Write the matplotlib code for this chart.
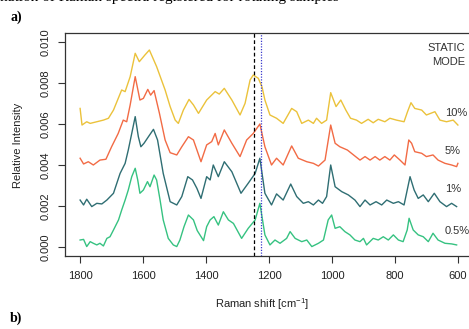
import matplotlib.pyplot as plt

plt.rcParams['font.family'] = ['Liberation Sans', 'DejaVu Sans']
plt.rcParams['mathtext.default'] = 'regular'

# spectra (wavenumber in cm-1, relative intensity)
wn_10 = [1800, 1794, 1779, 1768, 1747, 1726, 1710, 1694, 1668, 1657, 1641, 1625, 1612, 1594,
         1580, 1557, 1530, 1514, 1498, 1488, 1472, 1454, 1440, 1424, 1398, 1371, 1358, 1342,
         1318, 1292, 1276, 1260, 1250, 1234, 1222, 1213, 1197, 1176, 1155, 1128, 1112, 1096,
         1075, 1059, 1049, 1033, 1017, 1004, 987, 972, 956, 941, 922, 906, 885, 869, 853, 832,
         816, 795, 771, 760, 749, 737, 715, 700, 673, 657, 636, 615, 600]
int_10 = [0.00676, 0.00595, 0.00611, 0.00603, 0.00611, 0.00619, 0.00628, 0.00668, 0.00766,
          0.00758, 0.00831, 0.00945, 0.00904, 0.00937, 0.00961, 0.00880, 0.00766, 0.00685,
          0.00619, 0.00603, 0.00668, 0.00720, 0.00693, 0.00652, 0.00717, 0.00758, 0.00746,
          0.00774, 0.00717, 0.00644, 0.00701, 0.00815, 0.00839, 0.00823, 0.00780, 0.00717,
          0.00644, 0.00628, 0.00603, 0.00676, 0.00660, 0.00603, 0.00619, 0.00603, 0.00628,
          0.00603, 0.00619, 0.00753, 0.00685, 0.00717, 0.00668, 0.00628, 0.00619, 0.00603,
          0.00623, 0.00606, 0.00623, 0.00611, 0.00628, 0.00619, 0.00611, 0.00660, 0.00704,
          0.00676, 0.00668, 0.00644, 0.00660, 0.00619, 0.00611, 0.00619, 0.00595]

wn_5 = [1800, 1789, 1774, 1758, 1737, 1718, 1700, 1679, 1663, 1652, 1641, 1625, 1610, 1599,
        1585, 1576, 1565, 1548, 1530, 1514, 1493, 1477, 1456, 1440, 1416, 1398, 1382, 1371,
        1361, 1342, 1318, 1292, 1271, 1250, 1229, 1213, 1192, 1176, 1155, 1128, 1107, 1080,
        1059, 1043, 1022, 1004, 990, 975, 951, 938, 911, 895, 879, 863, 848, 832, 816, 802,
        784, 768, 756, 747, 737, 715, 700, 679, 663, 641, 620, 604, 600]
int_5 = [0.00433, 0.00405, 0.00416, 0.00400, 0.00424, 0.00428, 0.00489, 0.00554, 0.00619,
         0.00611, 0.00693, 0.00831, 0.00717, 0.00725, 0.00769, 0.00741, 0.00763, 0.00652,
         0.00522, 0.00460, 0.00449, 0.00489, 0.00538, 0.00522, 0.00416, 0.00498, 0.00514,
         0.00554, 0.00498, 0.00571, 0.00506, 0.00441, 0.00522, 0.00554, 0.00600, 0.00489,
         0.00400, 0.00433, 0.00400, 0.00493, 0.00433, 0.00416, 0.00408, 0.00395, 0.00424,
         0.00595, 0.00506, 0.00489, 0.00473, 0.00457, 0.00424, 0.00441, 0.00424, 0.00441,
         0.00424, 0.00441, 0.00424, 0.00449, 0.00424, 0.00400, 0.00522, 0.00506, 0.00465,
         0.00457, 0.00441, 0.00449, 0.00424, 0.00408, 0.00400, 0.00392, 0.00408]

wn_1 = [1800, 1789, 1779, 1763, 1747, 1731, 1715, 1694, 1673, 1657, 1647, 1636, 1625, 1615,
        1607, 1597, 1583, 1567, 1554, 1536, 1514, 1493, 1477, 1458, 1443, 1429, 1416, 1398,
        1387, 1377, 1361, 1342, 1318, 1289, 1266, 1244, 1229, 1213, 1192, 1176, 1155, 1131,
        1112, 1091, 1075, 1059, 1043, 1030, 1017, 1004, 990, 969, 948, 927, 911, 895, 879,
        860, 842, 826, 805, 789, 771, 752, 739, 726, 710, 694, 675, 657, 636, 620, 604]
int_1 = [0.00229, 0.00205, 0.00233, 0.00197, 0.00213, 0.00210, 0.00229, 0.00262, 0.00359,
         0.00408, 0.00473, 0.00554, 0.00636, 0.00538, 0.00489, 0.00506, 0.00538, 0.00574,
         0.00522, 0.00359, 0.00221, 0.00205, 0.00246, 0.00343, 0.00327, 0.00286, 0.00237,
         0.00343, 0.00327, 0.00400, 0.00343, 0.00416, 0.00367, 0.00262, 0.00311, 0.00359,
         0.00433, 0.00262, 0.00205, 0.00259, 0.00229, 0.00307, 0.00246, 0.00213, 0.00221,
         0.00205, 0.00229, 0.00213, 0.00246, 0.00400, 0.00294, 0.00270, 0.00254, 0.00229,
         0.00197, 0.00229, 0.00205, 0.00221, 0.00205, 0.00229, 0.00213, 0.00221, 0.00205,
         0.00343, 0.00278, 0.00237, 0.00254, 0.00221, 0.00262, 0.00221, 0.00197, 0.00213,
         0.00197]

wn_05 = [1800, 1789, 1779, 1768, 1758, 1747, 1737, 1726, 1715, 1705, 1694, 1678, 1668, 1657,
         1647, 1636, 1625, 1617, 1610, 1599, 1586, 1578, 1565, 1557, 1546, 1536, 1520, 1504,
         1493, 1483, 1470, 1456, 1440, 1428, 1408, 1398, 1387, 1375, 1361, 1345, 1329, 1313,
         1287, 1266, 1244, 1229, 1213, 1197, 1181, 1165, 1144, 1133, 1117, 1096, 1080, 1064,
         1043, 1027, 1012, 1001, 990, 975, 959, 943, 927, 911, 900, 890, 869, 853, 837, 821,
         805, 789, 774, 761, 755, 742, 726, 710, 694, 679, 663, 641, 620, 604]
int_05 = [0.00034, 0.00037, 0.00002, 0.00026, 0.00018, 0.00010, 0.00018, 0.00005, 0.00042,
          0.00050, 0.00083, 0.00132, 0.00180, 0.00229, 0.00278, 0.00343, 0.00384, 0.00327,
          0.00262, 0.00278, 0.00319, 0.00294, 0.00351, 0.00327, 0.00229, 0.00132, 0.00042,
          0.00010, 0.00002, 0.00034, 0.00099, 0.00156, 0.00132, 0.00080, 0.00031, 0.00099,
          0.00132, 0.00148, 0.00107, 0.00172, 0.00132, 0.00115, 0.00042, 0.00091, 0.00132,
          0.00213, 0.00059, 0.00010, 0.00034, 0.00018, 0.00042, 0.00075, 0.00042, 0.00026,
          0.00034, 0.00002, 0.00018, 0.00034, 0.00132, 0.00156, 0.00091, 0.00099, 0.00075,
          0.00059, 0.00034, 0.00026, 0.00042, 0.00010, 0.00042, 0.00034, 0.00050, 0.00034,
          0.00059, 0.00034, 0.00026, 0.00083, 0.00140, 0.00083, 0.00059, 0.00050, 0.00026,
          0.00067, 0.00034, 0.00018, 0.00015, 0.00010]

series = [(wn_10, int_10, '#EBC23B', '10%', 0.00654),
          (wn_5, int_5, '#F26B45', '5%', 0.00468),
          (wn_1, int_1, '#2F6E73', '1%', 0.00283),
          (wn_05, int_05, '#36C281', '0.5%', 0.00078)]

fig = plt.figure(figsize=(4.69, 3.29), dpi=100)
ax = fig.add_axes([65 / 469, 1 - 256 / 329, 408 / 469, 223 / 329])

for wn, inten, col, lab, ly in series:
    ax.plot(wn, inten, color=col, lw=1.0)
    ax.text(641, ly, lab, fontsize=8, color='#333333', ha='left', va='center')

ax.axvline(1247, color='black', ls=(0, (3, 2)), lw=0.9)
ax.axvline(1227, color='#3A3ACD', ls=(0, (1, 1.2)), lw=0.9)

ax.text(578, 0.00971, 'STATIC', fontsize=8, color='#333333', ha='right', va='center')
ax.text(578, 0.00902, 'MODE', fontsize=8, color='#333333', ha='right', va='center')

ax.set_xlim(1848, 552)
ax.set_ylim(-0.00044, 0.01044)
ax.set_xticks([1800, 1600, 1400, 1200, 1000, 800, 600])
ax.set_yticks([0.000, 0.002, 0.004, 0.006, 0.008, 0.010])
ax.set_yticklabels(['0.000', '0.002', '0.004', '0.006', '0.008', '0.010'],
                   rotation=90, va='center')
ax.tick_params(axis='both', direction='out', length=5, width=0.8, labelsize=8,
               color='#333333', labelcolor='#222222')
ax.tick_params(axis='y', pad=5)
ax.tick_params(axis='x', pad=6)
for sp in ax.spines.values():
    sp.set_color('#333333')
    sp.set_linewidth(0.9)

fig.text(262 / 469, 1 - 304 / 329, 'Raman shift [cm$^{-1}$]', fontsize=8,
         ha='center', va='center', color='#222222')
fig.text(18 / 469, 1 - 145 / 329, 'Relative Intensity', fontsize=8, rotation=90,
         ha='center', va='center', color='#222222')

fig.text(10 / 469, 1 - 17 / 329, 'a)', fontsize=10, fontweight='bold',
         family='Liberation Serif', ha='left', va='center')
fig.text(10 / 469, 1 - 318 / 329, 'b)', fontsize=10, fontweight='bold',
         family='Liberation Serif', ha='left', va='center')
fig.text(0 / 469, 1 + 3 / 329, 'nation of Raman spectra registered for rotating samples',
         fontsize=11, family='Liberation Serif', ha='left', va='center')

fig.savefig('out.png', dpi=100)
